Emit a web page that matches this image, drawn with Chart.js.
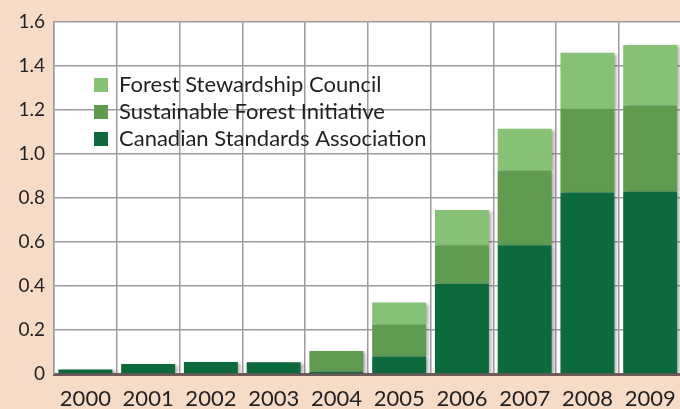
<!DOCTYPE html>
<html>
<head>
<meta charset="utf-8">
<script src="https://cdn.jsdelivr.net/npm/chart.js@4/dist/chart.umd.min.js"></script>
<style>
  html, body { margin: 0; padding: 0; background: #f6dcc7; overflow: hidden; }
  #wrap { position: relative; width: 690px; height: 409px; }
</style>
</head>
<body>
<div id="wrap"><canvas id="c"></canvas></div>
<script>
const categories = ['2000','2001','2002','2003','2004','2005','2006','2007','2008','2009'];
const csaValues = [0.02, 0.045, 0.055, 0.053, 0.01, 0.08, 0.41, 0.585, 0.825, 0.83];
const sfiValues = [0, 0, 0, 0, 0.095, 0.145, 0.175, 0.34, 0.38, 0.39];
const fscValues = [0, 0, 0, 0, 0, 0.10, 0.16, 0.19, 0.255, 0.275];
const yTickLabels = ['0','0.2','0.4','0.6','0.8','1.0','1.2','1.4','1.6'];
const seriesNames = ['Canadian Standards Association','Sustainable Forest Initiative','Forest Stewardship Council'];

const FONT = "Lato, 'Open Sans', sans-serif";
const TEXT = '#231f20';

const plotBg = {
  id: 'plotBg',
  beforeDraw(chart) {
    const {ctx, chartArea: a} = chart;
    ctx.save();
    ctx.fillStyle = '#ffffff';
    ctx.fillRect(a.left, a.top, a.right - a.left, a.bottom - a.top);
    ctx.restore();
  }
};
const barShadow = {
  id: 'barShadow',
  beforeDatasetsDraw(chart) {
    const ctx = chart.ctx;
    ctx.save();
    ctx.shadowColor = 'rgba(90,70,80,0.45)';
    ctx.shadowOffsetX = 3;
    ctx.shadowOffsetY = 1;
    ctx.shadowBlur = 3;
  },
  afterDatasetsDraw(chart) { chart.ctx.restore(); }
};
const legendShift = {
  id: 'legendShift',
  afterLayout(chart) {
    const lg = chart.legend;
    if (!lg) return;
    const dx = 35, dy = 69;
    lg.left += dx; lg.right += dx; lg.top += dy; lg.bottom += dy;
  }
};

new Chart(document.getElementById('c'), {
  type: 'bar',
  data: {
    labels: categories,
    datasets: [
      { label: seriesNames[0], data: csaValues, backgroundColor: '#0d6a3d' },
      { label: seriesNames[1], data: sfiValues, backgroundColor: '#5f9c4f' },
      { label: seriesNames[2], data: fscValues, backgroundColor: '#86c276' }
    ]
  },
  options: {
    responsive: true,
    maintainAspectRatio: false,
    animation: false,
    barPercentage: 0.86,
    categoryPercentage: 1.0,
    layout: { padding: { left: 14, top: 22, right: 6, bottom: 2 } },
    plugins: {
      tooltip: { enabled: false },
      legend: {
        position: 'chartArea',
        align: 'start',
        reverse: true,
        labels: {
          boxWidth: 14, boxHeight: 14, padding: 5,
          color: TEXT,
          font: { family: FONT, size: 22 }
        }
      }
    },
    scales: {
      x: {
        stacked: true,
        grid: { offset: true, color: '#9e99a3', lineWidth: 1.5, drawTicks: false },
        border: { display: true, color: '#6e5a57', width: 3 },
        ticks: { color: TEXT, padding: 14, font: { family: FONT, size: 22, lineHeight: 1 }, maxRotation: 0 },
        afterFit(s) { s.height = 33; }
      },
      y: {
        stacked: true,
        min: 0, max: 1.6,
        grid: { color: '#9e99a3', lineWidth: 1.5, drawTicks: false },
        border: { display: true, color: '#9e99a3', width: 1.5 },
        ticks: {
          stepSize: 0.2,
          padding: 9,
          color: TEXT,
          font: { family: FONT, size: 19 },
          callback: (v, i) => yTickLabels[i]
        },
        afterFit(s) { s.width = 40; }
      }
    }
  },
  plugins: [plotBg, barShadow, legendShift]
});
</script>
</body>
</html>
